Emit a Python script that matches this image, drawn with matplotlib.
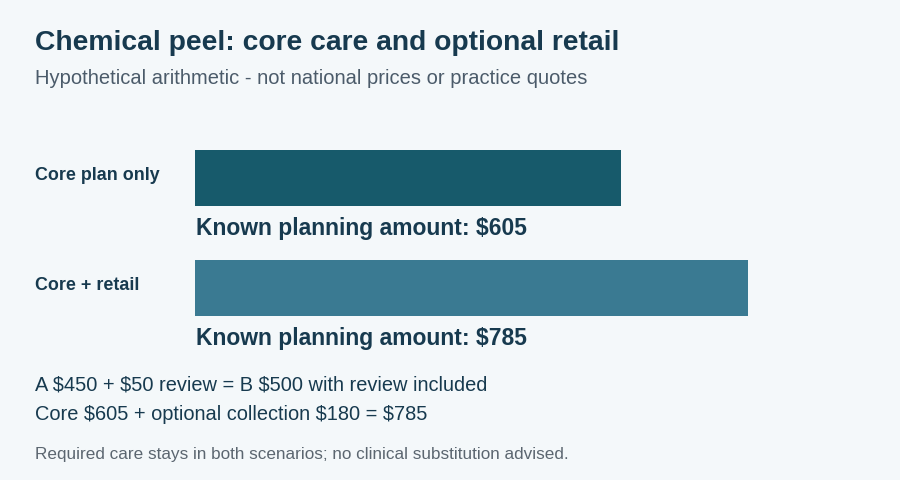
import matplotlib.pyplot as plt

plt.rcParams['font.family'] = ['Liberation Sans', 'DejaVu Sans']

# Data
scenarios = ["Core plan only", "Core + retail"]
amounts = [605, 785]
bar_colors = ["#175a6b", "#3a7a92"]

title = "Chemical peel: core care and optional retail"
subtitle = "Hypothetical arithmetic - not national prices or practice quotes"
notes = ["A $450 + $50 review = B $500 with review included",
         "Core $605 + optional collection $180 = $785"]
footnote = "Required care stays in both scenarios; no clinical substitution advised."

bg = "#f4f8fa"
dark = "#173a4f"

fig = plt.figure(figsize=(9, 4.8), dpi=100)
fig.patch.set_facecolor(bg)

W, H = 900, 480
# axes placed in pixel terms: x from 195 to 845, y from 150 to 316
ax = fig.add_axes([195 / W, 1 - 316 / H, 650 / W, 166 / H])
ax.set_facecolor(bg)
ypos = list(range(len(scenarios)))
bar_h = 56 / 110
ax.barh(ypos, amounts, height=bar_h, color=bar_colors)
ax.set_xlim(0, 650 / 0.7041)
ax.set_ylim(1 + bar_h / 2, -bar_h / 2)
ax.axis("off")

for y, name, val in zip(ypos, scenarios, amounts):
    ax.annotate(name, xy=(0, y), xycoords=("axes fraction", "data"),
                xytext=(-160, 2), textcoords="offset pixels",
                ha="left", va="center", fontsize=12.9, fontweight="bold",
                color=dark, annotation_clip=False)
    ax.annotate(f"Known planning amount: ${val}", xy=(0, y + bar_h / 2),
                xycoords="data", xytext=(1, -22), textcoords="offset pixels",
                ha="left", va="center", fontsize=16.5, fontweight="bold",
                color=dark, annotation_clip=False)

fig.text(35 / W, 1 - 43 / H, title, fontsize=20.3, fontweight="bold",
         color=dark, ha="left", va="center")
fig.text(35 / W, 1 - 78 / H, subtitle, fontsize=14.5, color="#4b5b6a",
         ha="left", va="center")
fig.text(35 / W, 1 - 385 / H, notes[0], fontsize=14.4, color=dark,
         ha="left", va="center")
fig.text(35 / W, 1 - 414 / H, notes[1], fontsize=14.4, color=dark,
         ha="left", va="center")
fig.text(35 / W, 1 - 455 / H, footnote, fontsize=12.3, color="#5b6670",
         ha="left", va="center")

fig.savefig("out.png", dpi=100, facecolor=bg)
